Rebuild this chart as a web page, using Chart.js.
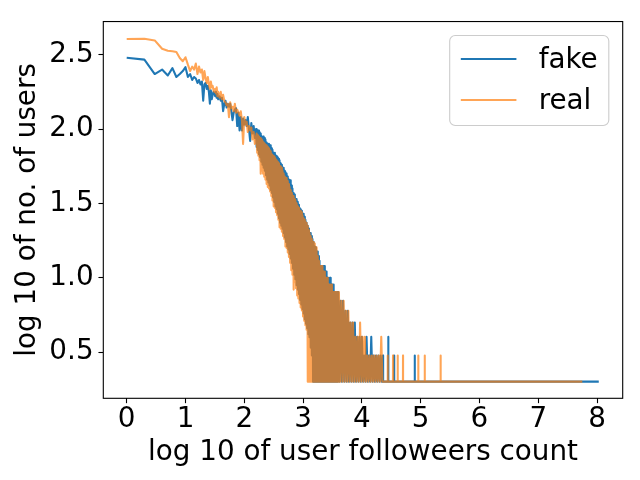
<!DOCTYPE html>
<html>
<head>
<meta charset="utf-8">
<script src="https://cdn.jsdelivr.net/npm/chart.js@4.4.1/dist/chart.umd.min.js"></script>
<style>
  html, body { margin: 0; padding: 0; background: #fff; }
  canvas { display: block; }
</style>
</head>
<body>
<canvas id="chart" width="640" height="480"></canvas>
<script>
// ticks
const xTicks = [0, 1, 2, 3, 4, 5, 6, 7, 8];
const xTickLabels = ["0", "1", "2", "3", "4", "5", "6", "7", "8"];
const yTicks = [0.5, 1, 1.5, 2, 2.5];
const yTickLabels = ["0.5", "1.0", "1.5", "2.0", "2.5"];

// fake users : log10(followers) / log10(nb users)
const fakeX = [0, 0.301, 0.477, 0.602, 0.699, 0.778, 0.845, 0.903, 0.954, 1,
    1.041, 1.079, 1.114, 1.146, 1.176, 1.204, 1.23, 1.255, 1.279, 1.301,
    1.322, 1.342, 1.362, 1.38, 1.398, 1.415, 1.431, 1.447, 1.462, 1.477,
    1.491, 1.505, 1.519, 1.531, 1.544, 1.556, 1.58, 1.6, 1.62, 1.64,
    1.66, 1.68, 1.7, 1.72, 1.74, 1.76, 1.78, 1.8, 1.82, 1.84,
    1.86, 1.88, 1.9, 1.92, 1.94, 1.96, 1.98, 2, 2.02, 2.04,
    2.06, 2.08, 2.1, 2.12, 2.14, 2.16, 2.18,
    2.2, 2.21, 2.22, 2.23, 2.24, 2.25, 2.26, 2.27, 2.28, 2.29,
    2.3, 2.31, 2.32, 2.33, 2.34, 2.35, 2.36, 2.37, 2.38, 2.39,
    2.4, 2.41, 2.42, 2.43, 2.44, 2.45, 2.46, 2.47, 2.48, 2.49,
    2.5, 2.51, 2.52, 2.53, 2.54, 2.55, 2.56, 2.57, 2.58, 2.59,
    2.6, 2.61, 2.62, 2.63, 2.64, 2.65, 2.66, 2.67, 2.68, 2.69,
    2.7, 2.71, 2.72, 2.73, 2.74, 2.75, 2.76, 2.77, 2.78, 2.79,
    2.8, 2.81, 2.82, 2.83, 2.84, 2.85, 2.86, 2.87, 2.88, 2.89,
    2.9, 2.91, 2.92, 2.93, 2.94, 2.95, 2.96, 2.97, 2.98, 2.99,
    3, 3.01, 3.02, 3.03, 3.04, 3.05, 3.06, 3.07, 3.08, 3.09,
    3.1, 3.11, 3.12, 3.13, 3.14, 3.15, 3.16, 3.17, 3.18, 3.19,
    3.2, 3.21, 3.22, 3.23, 3.24, 3.25, 3.26, 3.27, 3.28, 3.29,
    3.3, 3.31, 3.32, 3.33, 3.34, 3.35, 3.36, 3.37, 3.38, 3.39,
    3.4, 3.41, 3.42, 3.43, 3.44, 3.45, 3.46, 3.47, 3.48, 3.49,
    3.5, 3.51, 3.52, 3.53, 3.54, 3.55, 3.56, 3.57, 3.58, 3.59,
    3.6, 3.62, 3.64, 3.66, 3.68, 3.7, 3.72, 3.74, 3.76, 3.78,
    3.8, 3.82, 3.84, 3.86, 3.88, 3.9, 3.92, 3.94, 3.96, 3.98,
    4, 4.02, 4.04, 4.06, 4.08, 4.1, 4.12, 4.14, 4.16, 4.18,
    4.2, 4.22, 4.24, 4.26, 4.28, 4.3, 4.32, 4.34, 4.36, 4.362,
    4.449, 4.45, 4.451, 4.549, 4.55, 4.551, 4.899, 4.9, 4.901, 5.5,
    6.2, 7, 8.03];
const fakeY = [2.48, 2.467, 2.37, 2.4, 2.36, 2.41, 2.35, 2.37, 2.39, 2.416,
    2.35, 2.37, 2.33, 2.35, 2.34, 2.31, 2.33, 2.3, 2.32, 2.19,
    2.3, 2.31, 2.27, 2.29, 2.25, 2.17, 2.26, 2.2, 2.23, 2.25,
    2.24, 2.22, 2.25, 2.21, 2.235, 2.2, 2.22, 2.19, 2.21, 2.12,
    2.17, 2.19, 2.145, 2.17, 2.15, 2.17, 2.12, 2.06, 2.11, 2.13,
    2.14, 2.02, 2.11, 1.99, 2.08, 1.99, 2.07, 2.03, 2.06, 2.02,
    2.08, 2, 1.92, 2.04, 1.97, 2.02, 1.94,
    2, 1.88, 1.99, 1.86, 1.99, 1.83, 1.98, 1.81, 1.97, 1.78,
    1.95, 1.76, 1.95, 1.74, 1.94, 1.72, 1.93, 1.69, 1.91, 1.66,
    1.9, 1.64, 1.9, 1.62, 1.89, 1.59, 1.87, 1.57, 1.86, 1.54,
    1.84, 1.51, 1.84, 1.48, 1.82, 1.46, 1.81, 1.43, 1.8, 1.4,
    1.79, 1.37, 1.77, 1.35, 1.76, 1.33, 1.74, 1.3, 1.72, 1.27,
    1.71, 1.24, 1.7, 1.21, 1.68, 1.19, 1.66, 1.16, 1.656, 1.13,
    1.62, 1.1, 1.6, 1.06, 1.57, 1.02, 1.56, 0.99, 1.53, 0.95,
    1.51, 0.92, 1.49, 0.89, 1.47, 0.85, 1.46, 0.82, 1.45, 0.79,
    1.43, 0.76, 1.41, 0.72, 1.39, 0.69, 1.37, 0.66, 1.35, 0.62,
    1.33, 0.6, 1.3, 0.53, 1.28, 0.477, 1.26, 0.301, 1.24, 0.301,
    1.21, 0.301, 1.204, 0.301, 1.176, 0.301, 1.146, 0.301, 1.114, 0.301,
    1.079, 0.301, 1.079, 0.301, 1.079, 0.301, 1.079, 0.301, 1.041, 0.301,
    1.041, 0.301, 1, 0.301, 1, 0.301, 1, 0.301, 0.954, 0.301,
    0.954, 0.301, 0.954, 0.301, 0.903, 0.301, 0.903, 0.301, 0.903, 0.301,
    0.903, 0.301, 0.845, 0.301, 0.845, 0.301, 0.778, 0.301, 0.778, 0.301,
    0.699, 0.301, 0.699, 0.301, 0.699, 0.301, 0.602, 0.301, 0.602, 0.301,
    0.602, 0.301, 0.477, 0.301, 0.602, 0.301, 0.477, 0.301, 0.602, 0.301,
    0.477, 0.301, 0.477, 0.301, 0.477, 0.301, 0.477, 0.301, 0.477, 0.301,
    0.301, 0.602, 0.301, 0.301, 0.477, 0.301, 0.301, 0.477, 0.301, 0.301,
    0.301, 0.301, 0.301];

// real users
const realX = [0, 0.301, 0.477, 0.602, 0.699, 0.778, 0.845, 0.903, 0.954, 1,
    1.041, 1.079, 1.114, 1.146, 1.176, 1.204, 1.23, 1.255, 1.279, 1.301,
    1.322, 1.342, 1.362, 1.38, 1.398, 1.415, 1.431, 1.447, 1.462, 1.477,
    1.491, 1.505, 1.519, 1.531, 1.544, 1.556, 1.58, 1.6, 1.62, 1.64,
    1.66, 1.68, 1.7, 1.72, 1.74, 1.76, 1.78, 1.8, 1.82, 1.84,
    1.86, 1.88, 1.9, 1.92, 1.94, 1.96, 1.98, 2, 2.02, 2.04,
    2.06, 2.08, 2.1, 2.12, 2.14, 2.16, 2.18,
    2.21, 2.22, 2.23, 2.24, 2.25, 2.26, 2.27, 2.28, 2.29, 2.3,
    2.31, 2.32, 2.33, 2.34, 2.35, 2.36, 2.37, 2.38, 2.39, 2.4,
    2.41, 2.42, 2.43, 2.44, 2.45, 2.46, 2.47, 2.48, 2.49, 2.5,
    2.51, 2.52, 2.53, 2.54, 2.55, 2.56, 2.57, 2.58, 2.59, 2.6,
    2.61, 2.62, 2.63, 2.64, 2.65, 2.66, 2.67, 2.68, 2.69, 2.7,
    2.71, 2.72, 2.73, 2.74, 2.75, 2.76, 2.77, 2.78, 2.79, 2.8,
    2.81, 2.82, 2.83, 2.84, 2.85, 2.86, 2.87, 2.88, 2.89, 2.9,
    2.91, 2.92, 2.93, 2.94, 2.95, 2.96, 2.97, 2.98, 2.99, 3,
    3.01, 3.02, 3.03, 3.04, 3.05, 3.06, 3.07, 3.08, 3.09, 3.1,
    3.11, 3.12, 3.13, 3.14, 3.15, 3.16, 3.17, 3.18, 3.19, 3.2,
    3.21, 3.22, 3.23, 3.24, 3.25, 3.26, 3.27, 3.28, 3.29, 3.3,
    3.31, 3.32, 3.33, 3.34, 3.35, 3.36, 3.37, 3.38, 3.39, 3.4,
    3.41, 3.42, 3.43, 3.44, 3.45, 3.46, 3.47, 3.48, 3.49, 3.5,
    3.51, 3.52, 3.53, 3.54, 3.55, 3.56, 3.57, 3.58, 3.59, 3.6,
    3.61, 3.63, 3.65, 3.67, 3.69, 3.71, 3.73, 3.75, 3.77, 3.79,
    3.81, 3.83, 3.85, 3.87, 3.89, 3.91, 3.93, 3.95, 3.97, 3.99,
    4.01, 4.03, 4.05, 4.07, 4.09, 4.11, 4.13, 4.15, 4.17, 4.19,
    4.21, 4.23, 4.25, 4.27, 4.29, 4.31, 4.33, 4.35,
    4.439, 4.44, 4.441, 4.529, 4.53, 4.531, 4.609, 4.61, 4.611, 4.699,
    4.7, 4.701, 4.959, 4.96, 4.961, 5.069, 5.07, 5.071, 5.339, 5.34,
    5.341, 5.9, 6.5, 7.1, 7.75];
const realY = [2.605, 2.607, 2.596, 2.54, 2.527, 2.523, 2.518, 2.478, 2.456, 2.483,
    2.433, 2.39, 2.42, 2.4, 2.44, 2.37, 2.42, 2.38, 2.4, 2.33,
    2.39, 2.34, 2.31, 2.35, 2.3, 2.27, 2.32, 2.28, 2.29, 2.26,
    2.25, 2.27, 2.24, 2.28, 2.22, 2.25, 2.21, 2.25, 2.2, 2.23,
    2.19, 2.18, 2.16, 2.17, 2.08, 2.18, 2.14, 2.15, 2.12, 2.17,
    2.11, 2.13, 2.11, 2.09, 2.12, 2.06, 1.9, 2.08, 2.03, 2.05,
    1.98, 2.02, 1.99, 2.01, 1.93, 1.98, 1.9,
    1.97, 1.84, 1.96, 1.82, 1.95, 1.79, 1.94, 1.7, 1.93, 1.72,
    1.92, 1.7, 1.91, 1.68, 1.9, 1.66, 1.89, 1.63, 1.88, 1.61,
    1.87, 1.6, 1.86, 1.58, 1.85, 1.55, 1.83, 1.52, 1.82, 1.48,
    1.81, 1.47, 1.8, 1.44, 1.79, 1.42, 1.78, 1.39, 1.77, 1.34,
    1.75, 1.33, 1.74, 1.31, 1.72, 1.28, 1.7, 1.26, 1.68, 1.21,
    1.67, 1.2, 1.65, 1.17, 1.63, 1.14, 1.61, 1.1, 1.59, 1.05,
    1.57, 1.02, 1.55, 0.92, 1.53, 0.97, 1.52, 0.93, 1.5, 0.88,
    1.48, 0.86, 1.47, 0.83, 1.45, 0.8, 1.44, 0.78, 1.42, 0.74,
    1.4, 0.71, 1.39, 0.68, 1.37, 0.65, 1.35, 0.301, 1.32, 0.301,
    1.3, 0.301, 1.28, 0.301, 1.26, 0.301, 1.24, 0.301, 1.23, 0.301,
    1.204, 0.301, 1.204, 0.301, 1.146, 0.301, 1.114, 0.301, 1.079, 0.301,
    1.079, 0.301, 1.079, 0.301, 1.041, 0.301, 1.041, 0.301, 1, 0.301,
    1, 0.301, 0.954, 0.301, 0.954, 0.301, 0.954, 0.301, 0.954, 0.301,
    0.903, 0.301, 0.903, 0.301, 0.903, 0.301, 0.903, 0.301, 0.903, 0.301,
    0.903, 0.301, 0.845, 0.301, 0.845, 0.301, 0.778, 0.301, 0.778, 0.301,
    0.699, 0.301, 0.699, 0.301, 0.602, 0.301, 0.602, 0.301, 0.699, 0.301,
    0.602, 0.301, 0.602, 0.301, 0.477, 0.301, 0.477, 0.301, 0.477, 0.301,
    0.477, 0.301, 0.477, 0.301, 0.477, 0.301, 0.602, 0.301,
    0.301, 0.477, 0.301, 0.301, 0.477, 0.301, 0.301, 0.477, 0.301, 0.301,
    0.477, 0.301, 0.301, 0.477, 0.301, 0.301, 0.477, 0.301, 0.301, 0.477,
    0.301, 0.301, 0.301, 0.301, 0.301];

const FONT = "'DejaVu Sans'";
const FS = 27.8; // 20pt à 100 dpi

function toPoints(xs, ys) {
    return xs.map((x, i) => ({ x, y: ys[i] }));
}

// cadre complet + légende dans le coin, façon matplotlib
const mplPlugin = {
    id: "mpl",
    afterDatasetsDraw(chart) {
        const { ctx, chartArea: a } = chart;
        ctx.save();
        ctx.strokeStyle = "#000";
        ctx.lineWidth = 1.1;
        ctx.strokeRect(a.left, a.top, a.right - a.left, a.bottom - a.top);
        ctx.restore();
    },
    afterDraw(chart) {
        const { ctx, chartArea: a } = chart;
        const items = chart.data.datasets;
        const border = 0.4 * FS, handle = 2 * FS, textPad = 0.8 * FS;
        const spacing = 0.5 * FS, rowH = 0.97 * FS;

        ctx.save();
        ctx.font = FS + "px " + FONT;
        const textW = Math.max(...items.map(d => ctx.measureText(d.label).width));
        const w = border * 2 + handle + textPad + textW;
        const h = border * 2 + rowH * items.length + spacing * (items.length - 1);
        const right = a.right - 0.5 * FS;
        const top = a.top + 0.5 * FS;
        const left = right - w;

        ctx.beginPath();
        ctx.roundRect(left, top, w, h, 0.2 * FS);
        ctx.fillStyle = "rgba(255,255,255,0.8)";
        ctx.fill();
        ctx.strokeStyle = "#cccccc";
        ctx.lineWidth = 1.1;
        ctx.stroke();

        items.forEach((d, i) => {
            const rowTop = top + border + i * (rowH + spacing);
            const midY = rowTop + 0.45 * FS;
            ctx.beginPath();
            ctx.strokeStyle = d.borderColor;
            ctx.lineWidth = d.borderWidth;
            ctx.moveTo(left + border, midY);
            ctx.lineTo(left + border + handle, midY);
            ctx.stroke();
            ctx.fillStyle = "#000";
            ctx.textBaseline = "alphabetic";
            ctx.textAlign = "left";
            ctx.fillText(d.label, left + border + handle + textPad, rowTop + 0.76 * FS);
        });
        ctx.restore();
    }
};

const ctx = document.getElementById("chart").getContext("2d");

new Chart(ctx, {
    type: "line",
    data: {
        datasets: [{
            label: "fake",
            data: toPoints(fakeX, fakeY),
            borderColor: "#1f77b4",
            borderWidth: 2.08,
            pointRadius: 0,
            order: 1
        }, {
            label: "real",
            data: toPoints(realX, realY),
            borderColor: "rgba(255, 127, 14, 0.7)",
            borderWidth: 2.08,
            pointRadius: 0,
            order: 0
        }]
    },
    options: {
        responsive: false,
        animation: false,
        events: [],
        layout: {
            padding: { top: 18.3, right: 17.3, left: 0, bottom: 0 }
        },
        elements: {
            line: { tension: 0, borderJoinStyle: "round" }
        },
        scales: {
            x: {
                type: "linear",
                bounds: "data",
                min: -0.398,
                max: 8.437,
                afterBuildTicks: s => { s.ticks = xTicks.map(v => ({ value: v })); },
                afterFit: s => { s.height = 81.7; },
                border: { display: false },
                grid: {
                    drawOnChartArea: false,
                    drawTicks: true,
                    tickLength: 4.86,
                    tickColor: "#000",
                    tickWidth: 1.1
                },
                ticks: {
                    color: "#000",
                    font: { family: FONT, size: FS },
                    padding: 0,
                    maxRotation: 0,
                    autoSkip: false,
                    callback: (v, i) => xTickLabels[i]
                },
                title: {
                    display: true,
                    text: "log 10 of user followeers count",
                    color: "#000",
                    font: { family: FONT, size: FS },
                    padding: { top: 0, bottom: 11 }
                }
            },
            y: {
                type: "linear",
                bounds: "data",
                min: 0.189,
                max: 2.723,
                afterBuildTicks: s => { s.ticks = yTicks.map(v => ({ value: v })); },
                afterFit: s => { s.width = 103.3; },
                border: { display: false },
                grid: {
                    drawOnChartArea: false,
                    drawTicks: true,
                    tickLength: 4.86,
                    tickColor: "#000",
                    tickWidth: 1.1
                },
                ticks: {
                    color: "#000",
                    font: { family: FONT, size: FS },
                    padding: 4.86,
                    autoSkip: false,
                    callback: (v, i) => yTickLabels[i]
                },
                title: {
                    display: true,
                    text: "log 10 of no. of users",
                    color: "#000",
                    font: { family: FONT, size: FS },
                    padding: { top: 11, bottom: 0 }
                }
            }
        },
        plugins: {
            legend: { display: false },
            tooltip: { enabled: false }
        }
    },
    plugins: [mplPlugin]
});
</script>
</body>
</html>
